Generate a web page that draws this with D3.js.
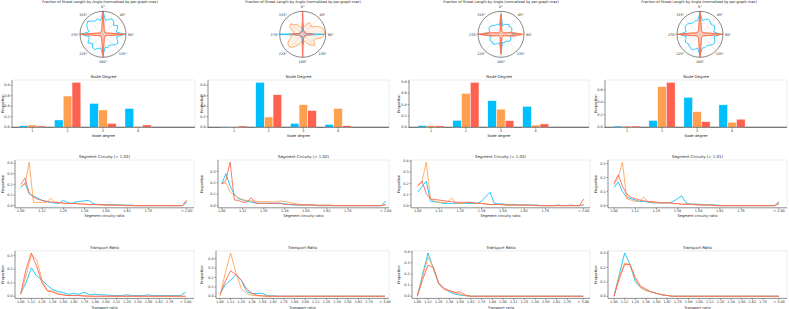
<!DOCTYPE html>
<html><head><meta charset="utf-8">
<script src="https://cdn.jsdelivr.net/npm/d3@7"></script>
<style>
body{margin:0;background:#fff}
svg{display:block}
text{font-family:"DejaVu Sans",sans-serif;fill:#262626}
</style>
</head><body>
<svg id="c" width="789" height="309"></svg>
<script>
// ---------- data ----------
const colors = ["#00BFFF", "#FFA050", "#FF6150"];

const polarAngles = [0,10,20,30,40,50,60,70,80,90,100,110,120,130,140,150,160,170,180,190,200,210,220,230,240,250,260,270,280,290,300,310,320,330,340,350];
const polarTickAngles = [0,45,90,135,180,225,270,315];
const polarTickLabels = ["0°","45°","90°","135°","180°","225°","270°","315°"];

const polarBlue1 = [1.0,0.62,0.68,0.78,0.72,0.6,0.74,0.66,0.58,0.95,0.6,0.66,0.76,0.7,0.6,0.55,0.62,0.56,0.92,0.6,0.66,0.76,0.72,0.6,0.76,0.66,0.6,0.96,0.62,0.72,0.82,0.86,0.76,0.66,0.72,0.6];
const polarOrange1 = [0.85,0.25,0.14,0.12,0.1,0.12,0.1,0.14,0.28,0.9,0.28,0.14,0.1,0.12,0.1,0.12,0.14,0.25,0.85,0.25,0.14,0.12,0.1,0.12,0.1,0.14,0.28,0.9,0.28,0.14,0.1,0.12,0.1,0.12,0.14,0.25];
const polarRed1 = [1.0,0.3,0.18,0.15,0.14,0.15,0.14,0.16,0.3,1.0,0.3,0.16,0.14,0.15,0.14,0.15,0.18,0.3,1.0,0.3,0.18,0.15,0.14,0.15,0.14,0.16,0.3,1.0,0.3,0.16,0.14,0.15,0.14,0.15,0.18,0.3];

const polarBlue2 = [0.3,0.12,0.1,0.1,0.12,0.1,0.1,0.12,0.2,1.0,0.2,0.12,0.1,0.1,0.12,0.1,0.1,0.12,0.4,0.12,0.1,0.1,0.12,0.1,0.1,0.12,0.2,1.0,0.2,0.12,0.1,0.1,0.12,0.1,0.1,0.12];
const polarOrange2 = [0.45,0.35,0.45,0.6,0.55,0.5,0.7,0.88,0.95,0.95,0.85,0.6,0.55,0.7,0.65,0.5,0.35,0.3,0.45,0.35,0.45,0.6,0.75,0.8,0.75,0.6,0.5,0.6,0.35,0.5,0.65,0.7,0.55,0.5,0.35,0.3];
const polarRed2 = [1.0,0.2,0.15,0.12,0.15,0.12,0.12,0.15,0.2,0.45,0.2,0.15,0.12,0.12,0.15,0.12,0.15,0.2,1.0,0.2,0.15,0.12,0.15,0.12,0.12,0.15,0.2,0.45,0.2,0.15,0.12,0.12,0.15,0.12,0.15,0.2];

const polarBlue3 = [0.9,0.38,0.45,0.5,0.55,0.5,0.55,0.5,0.42,0.62,0.42,0.45,0.5,0.46,0.4,0.36,0.4,0.36,0.85,0.36,0.42,0.5,0.55,0.5,0.55,0.5,0.42,0.9,0.5,0.55,0.6,0.56,0.5,0.46,0.46,0.4];
const polarOrange3 = [0.9,0.22,0.14,0.12,0.1,0.12,0.12,0.2,0.5,1.0,0.55,0.2,0.12,0.12,0.1,0.12,0.14,0.22,0.9,0.22,0.14,0.12,0.1,0.12,0.12,0.2,0.45,1.0,0.5,0.2,0.12,0.12,0.1,0.12,0.14,0.22];
const polarRed3 = [0.85,0.18,0.12,0.1,0.1,0.1,0.1,0.16,0.4,0.9,0.4,0.16,0.1,0.1,0.1,0.1,0.12,0.18,0.8,0.18,0.12,0.1,0.1,0.1,0.1,0.16,0.35,1.0,0.35,0.16,0.1,0.1,0.1,0.1,0.12,0.18];

const polarBlue4 = [0.95,0.6,0.7,0.75,0.7,0.65,0.72,0.68,0.6,0.9,0.62,0.68,0.74,0.7,0.62,0.58,0.62,0.6,0.92,0.6,0.7,0.75,0.7,0.65,0.72,0.68,0.6,0.9,0.62,0.68,0.74,0.7,0.62,0.58,0.62,0.6];
const polarOrange4 = [0.95,0.3,0.16,0.14,0.12,0.14,0.12,0.16,0.32,1.0,0.32,0.16,0.12,0.14,0.12,0.14,0.16,0.3,0.95,0.3,0.16,0.14,0.12,0.14,0.12,0.16,0.32,1.0,0.32,0.16,0.12,0.14,0.12,0.14,0.16,0.3];
const polarRed4 = [1.0,0.32,0.18,0.15,0.14,0.15,0.14,0.18,0.34,0.98,0.34,0.18,0.14,0.15,0.14,0.15,0.18,0.32,1.0,0.32,0.18,0.15,0.14,0.15,0.14,0.18,0.34,0.98,0.34,0.18,0.14,0.15,0.14,0.15,0.18,0.32];

const degreeCats = [1, 2, 3, 4];
const degreeBlue1 = [0.03, 0.14, 0.455, 0.36];
const degreeOrange1 = [0.045, 0.595, 0.33, 0.02];
const degreeRed1 = [0.025, 0.857, 0.076, 0.045];
const degreeBlue2 = [0.013, 0.857, 0.076, 0.057];
const degreeOrange2 = [0.013, 0.197, 0.43, 0.36];
const degreeRed2 = [0.025, 0.62, 0.32, 0.03];
const degreeBlue3 = [0.03, 0.124, 0.47, 0.37];
const degreeOrange3 = [0.03, 0.60, 0.32, 0.04];
const degreeRed3 = [0.025, 0.794, 0.118, 0.06];
const degreeBlue4 = [0.02, 0.11, 0.48, 0.36];
const degreeOrange4 = [0.02, 0.65, 0.25, 0.08];
const degreeRed4 = [0.02, 0.72, 0.09, 0.13];

const circuityTitles = ["Segment Circuity (> 1.02)", "Segment Circuity (> 1.02)", "Segment Circuity (> 1.02)", "Segment Circuity (> 1.01)"];
const circuityBins = [1.000,1.025,1.050,1.075,1.100,1.125,1.150,1.175,1.200,1.225,1.250,1.275,1.300,1.325,1.350,1.375,1.400,1.425,1.450,1.475,1.500,1.525,1.550,1.575,1.600,1.625,1.650,1.675,1.700,1.725,1.750,1.775,1.800,1.825,1.850,1.875,1.900,1.925,1.950,1.975];
const circuityTicks = [1.000,1.125,1.250,1.375,1.500,1.625,1.750,1.975];
const circuityTickLabels = ["1.00","1.12","1.25","1.38","1.50","1.62","1.75","> 2.00"];

const circBlue1 = [0.17,0.215,0.11,0.09,0.07,0.05,0.04,0.03,0.025,0.02,0.05,0.03,0.02,0.035,0.04,0.045,0.05,0.02,0.01,0.01,0.01,0.01,0.01,0.005,0.005,0.005,0.005,0,0,0,0,0,0,0,0,0,0,0,0,0.03];
const circOrange1 = [0.18,0.2,0.41,0.03,0.03,0.03,0.03,0.07,0.035,0.03,0.02,0.02,0.02,0.02,0.015,0.015,0.01,0.01,0.01,0.005,0.005,0.005,0.005,0.005,0,0,0,0,0,0,0,0,0,0,0,0,0,0,0,0.05];
const circRed1 = [0.2,0.26,0.12,0.08,0.06,0.05,0.04,0.035,0.03,0.03,0.025,0.02,0.02,0.02,0.015,0.015,0.01,0.01,0.01,0.01,0.005,0.005,0.005,0.005,0.005,0,0,0,0,0,0,0,0,0,0,0,0,0,0,0.05];

const circBlue2 = [0.19,0.28,0.17,0.1,0.06,0.05,0.04,0.03,0.025,0.02,0.02,0.02,0.02,0.02,0.02,0.015,0.01,0.005,0.005,0.005,0.005,0.005,0.005,0,0,0,0,0,0,0,0,0,0,0,0,0,0,0,0,0.04];
const circOrange2 = [0.19,0.2,0.12,0.09,0.07,0.05,0.045,0.04,0.04,0.035,0.035,0.035,0.03,0.035,0.04,0.035,0.03,0.02,0.015,0.01,0.01,0.01,0.005,0.005,0.005,0.005,0.005,0,0,0,0,0,0,0,0,0,0,0,0,0.01];
const circRed2 = [0.19,0.22,0.38,0.05,0.045,0.03,0.03,0.07,0.02,0.02,0.02,0.02,0.02,0.02,0.02,0.01,0.01,0.01,0.005,0.005,0.005,0.005,0.005,0,0,0,0,0,0,0,0,0,0,0,0,0,0,0,0,0.01];

const circBlue3 = [0.12,0.17,0.22,0.04,0.035,0.03,0.02,0.02,0.02,0.02,0.02,0.02,0.02,0.02,0.02,0.04,0.08,0.12,0.02,0.015,0.015,0.01,0.01,0.01,0.005,0.005,0.005,0.005,0.005,0,0,0,0,0.005,0,0,0.005,0,0,0.005];
const circOrange3 = [0.17,0.21,0.39,0.06,0.04,0.03,0.03,0.03,0.07,0.02,0.02,0.025,0.03,0.025,0.02,0.02,0.015,0.01,0.01,0.01,0.005,0.005,0.005,0.005,0.005,0.005,0.005,0,0,0,0,0,0,0,0,0,0,0,0,0.01];
const circRed3 = [0.18,0.22,0.11,0.06,0.055,0.05,0.045,0.04,0.035,0.03,0.03,0.03,0.03,0.025,0.02,0.02,0.015,0.01,0.01,0.01,0.01,0.005,0.005,0.005,0.005,0.005,0.005,0.005,0,0,0,0,0,0,0,0,0,0,0,0.06];

const circBlue4 = [0.13,0.17,0.1,0.06,0.05,0.04,0.03,0.03,0.025,0.02,0.02,0.02,0.02,0.02,0.03,0.05,0.07,0.02,0.01,0.01,0.01,0.005,0.005,0.005,0.005,0,0,0,0,0,0,0,0,0,0,0,0,0,0,0.02];
const circOrange4 = [0.15,0.2,0.31,0.05,0.04,0.03,0.03,0.06,0.03,0.02,0.02,0.02,0.02,0.02,0.015,0.015,0.01,0.01,0.01,0.005,0.005,0.005,0.005,0,0,0,0,0,0,0,0,0,0,0,0,0,0,0,0,0.01];
const circRed4 = [0.16,0.22,0.14,0.08,0.06,0.05,0.04,0.035,0.03,0.03,0.025,0.02,0.02,0.02,0.015,0.015,0.01,0.01,0.01,0.01,0.005,0.005,0.005,0.005,0,0,0,0,0,0,0,0,0,0,0,0,0,0,0,0.03];

const transportBins = [1.0,1.0625,1.125,1.1875,1.25,1.3125,1.375,1.4375,1.5,1.5625,1.625,1.6875,1.75,1.8125,1.875,1.9375,2.0,2.0625,2.125,2.1875,2.25,2.3125,2.375,2.4375,2.5,2.5625,2.625,2.6875,2.75,2.8125,2.875,2.9375];
const transportTicks = [1.0,1.125,1.25,1.375,1.5,1.625,1.75,1.875,2.0,2.125,2.25,2.375,2.5,2.625,2.75,2.9375];
const transportTickLabels = ["1.00","1.12","1.25","1.38","1.50","1.62","1.75","1.88","2.00","2.12","2.25","2.38","2.50","2.62","2.75","> 3.00"];

const transBlue1 = [0.02,0.1,0.21,0.15,0.12,0.08,0.05,0.035,0.027,0.015,0.02,0.015,0.03,0.01,0.015,0.01,0.01,0.005,0.005,0.005,0.01,0.005,0.005,0.005,0.01,0.005,0.005,0.005,0.005,0.005,0.005,0.03];
const transOrange1 = [0.01,0.15,0.31,0.27,0.12,0.04,0.04,0.02,0.01,0.005,0.005,0.005,0.005,0,0,0,0,0,0,0,0,0,0,0,0,0,0,0,0,0,0,0];
const transRed1 = [0.02,0.2,0.32,0.22,0.1,0.04,0.03,0.015,0.01,0.005,0.005,0.005,0,0,0,0,0,0,0,0,0,0,0,0,0,0,0,0,0,0,0,0];

const transBlue2 = [0.03,0.12,0.17,0.23,0.17,0.05,0.03,0.03,0.03,0.005,0.005,0,0,0,0,0,0,0,0,0,0,0,0,0,0,0,0,0,0,0,0,0];
const transOrange2 = [0.0,0.25,0.46,0.25,0.08,0.03,0.01,0.005,0,0,0,0,0,0,0,0,0,0,0,0,0,0,0,0,0,0,0,0,0,0,0,0];
const transRed2 = [0.02,0.16,0.27,0.23,0.17,0.08,0.03,0.01,0.005,0,0,0,0,0,0,0,0,0,0,0,0,0,0,0,0,0,0,0,0,0,0,0];

const transBlue3 = [0.0,0.2,0.39,0.25,0.11,0.07,0.04,0.02,0.01,0.005,0,0,0,0,0,0,0,0,0,0,0,0,0,0,0,0,0,0,0,0,0,0];
const transOrange3 = [0.0,0.18,0.35,0.26,0.11,0.06,0.05,0.03,0.02,0.005,0,0,0,0,0,0,0,0,0,0,0,0,0,0,0,0,0,0,0,0,0,0];
const transRed3 = [0.0,0.15,0.28,0.26,0.12,0.07,0.05,0.035,0.04,0.01,0,0,0,0,0,0,0,0,0,0,0,0,0,0,0,0,0,0,0,0,0,0];

const transBlue4 = [0.0,0.15,0.3,0.22,0.1,0.06,0.04,0.03,0.02,0.01,0.005,0,0,0,0,0,0,0,0,0,0,0,0,0,0,0,0,0,0,0,0,0];
const transOrange4 = [0.0,0.14,0.23,0.22,0.12,0.06,0.04,0.03,0.02,0.01,0.005,0,0,0,0,0,0,0,0,0,0,0,0,0,0,0,0,0,0,0,0,0];
const transRed4 = [0.0,0.12,0.22,0.22,0.13,0.07,0.05,0.03,0.02,0.01,0.005,0,0,0,0,0,0,0,0,0,0,0,0,0,0,0,0,0,0,0,0,0];

const polarData = [[polarBlue1,polarOrange1,polarRed1],[polarBlue2,polarOrange2,polarRed2],[polarBlue3,polarOrange3,polarRed3],[polarBlue4,polarOrange4,polarRed4]];
const degreeData = [[degreeBlue1,degreeOrange1,degreeRed1],[degreeBlue2,degreeOrange2,degreeRed2],[degreeBlue3,degreeOrange3,degreeRed3],[degreeBlue4,degreeOrange4,degreeRed4]];
const circData = [[circBlue1,circOrange1,circRed1],[circBlue2,circOrange2,circRed2],[circBlue3,circOrange3,circRed3],[circBlue4,circOrange4,circRed4]];
const transData = [[transBlue1,transOrange1,transRed1],[transBlue2,transOrange2,transRed2],[transBlue3,transOrange3,transRed3],[transBlue4,transOrange4,transRed4]];

// ---------- layout ----------
const layout = [
 {pcx:103,   ptx:100, ylab:2.7,   bar:[12,195],  cat1:32.3, step:35.3, seg:[15,194],  segA:20.7,  segB:186.7, tr:[15,194],  trA:20.7,  trB:185.7},
 {pcx:302.7, ptx:303, ylab:201.7, bar:[208,389], cat1:234,  step:34.7, seg:[218,389], segA:221.7, segB:385.7, tr:[216,389], trA:220,   trB:385},
 {pcx:501,   ptx:501, ylab:398.5, bar:[409,589], cat1:431,  step:34.9, seg:[411,590], segA:417.7, segB:583.7, tr:[412,590], trA:417.3, trB:583.3},
 {pcx:700,   ptx:699, ylab:596,   bar:[605,787], cat1:627,  step:35.0, seg:[608,787], segA:614,   segB:779,   tr:[608,787], trA:614,   trB:779}
];
const PCY = 34.3, PR = 23;
const barTop = 80, barBot = 127.3;
const segTop = 160, segBot = 207.8;
const trTop = 250.8, trBot = 298.4;
const FS_TICK = 3.4, FS_LAB = 3.6, FS_TITLE = 3.9;
const polarFill = [0.0, 0.15, 0.15];

const svg = d3.select("#c");

function spines(g, l, r, t, b) {
  g.append("line").attr("x1",l).attr("x2",r).attr("y1",t).attr("y2",t).attr("stroke","#d8d8d8").attr("stroke-width",0.5);
  g.append("line").attr("x1",r).attr("x2",r).attr("y1",t).attr("y2",b).attr("stroke","#d8d8d8").attr("stroke-width",0.5);
  g.append("line").attr("x1",l).attr("x2",l).attr("y1",t).attr("y2",b).attr("stroke","#444").attr("stroke-width",0.6);
  g.append("line").attr("x1",l).attr("x2",r).attr("y1",b).attr("y2",b).attr("stroke","#444").attr("stroke-width",0.6);
}
function yAxis(g, y, l, ticks) {
  ticks.forEach(t => {
    g.append("line").attr("x1",l-1.5).attr("x2",l).attr("y1",y(t)).attr("y2",y(t)).attr("stroke","#444").attr("stroke-width",0.5);
    g.append("text").attr("x",l-2.3).attr("y",y(t)).attr("dy","0.35em").attr("text-anchor","end").attr("font-size",FS_TICK).text(d3.format(".1f")(t));
  });
}
function xAxis(g, x, b, vals, labels) {
  vals.forEach((v,i) => {
    g.append("line").attr("x1",x(v)).attr("x2",x(v)).attr("y1",b).attr("y2",b+1.5).attr("stroke","#444").attr("stroke-width",0.5);
    g.append("text").attr("x",x(v)).attr("y",b+4.6).attr("text-anchor","middle").attr("font-size",FS_TICK).text(labels[i]);
  });
}
function yLabel(g, xpos, t, b) {
  g.append("text").attr("transform",`translate(${xpos},${(t+b)/2}) rotate(-90)`).attr("text-anchor","middle").attr("dy","0.35em").attr("font-size",FS_LAB).text("Proportion");
}
function autoY(series, t, b) {
  const mx = d3.max(series.flat());
  return d3.scaleLinear().domain([-0.05*mx, 1.05*mx]).range([b, t]);
}
function yTicksFor(y) {
  const [lo, hi] = y.domain();
  const out = [];
  for (let k = 0; k <= 10; k++) { const v = k/10; if (v <= hi + 1e-9 && v >= lo) out.push(v); }
  return out;
}
function yTicksBar(y) {
  const hi = y.domain()[1];
  const out = [];
  for (let k = 0; k <= 5; k++) { const v = k*0.2; if (v <= hi + 1e-9) out.push(v); }
  return out;
}

layout.forEach((L, c) => {
  const g = svg.append("g");

  // ---- polar ----
  g.append("text").attr("x",L.ptx).attr("y",2.6).attr("text-anchor","middle").attr("font-size",3.5).text("Fraction of Street Length by Angle (normalized by per-graph max)");
  const pg = g.append("g").attr("transform",`translate(${L.pcx},${PCY})`);
  const rScale = d3.scaleLinear().domain([0,1]).range([0,PR]);
  polarTickAngles.forEach((a,i) => {
    const rad = a*Math.PI/180;
    pg.append("line").attr("x1",0).attr("y1",0).attr("x2",PR*Math.sin(rad)).attr("y2",-PR*Math.cos(rad)).attr("stroke","#d0d0d0").attr("stroke-width",0.5);
    pg.append("text").attr("x",28*Math.sin(rad)).attr("y",-28*Math.cos(rad)).attr("dy","0.35em").attr("text-anchor","middle").attr("font-size",FS_TICK).text(polarTickLabels[i]);
  });
  pg.append("circle").attr("r",PR*0.5).attr("fill","none").attr("stroke","#e4e4e4").attr("stroke-width",0.4);
  const radial = d3.lineRadial().angle((d,i) => polarAngles[i]*Math.PI/180).radius(d => rScale(d)).curve(d3.curveLinearClosed);
  polarData[c].forEach((s,k) => {
    pg.append("path").attr("d",radial(s)).attr("fill",colors[k]).attr("fill-opacity",polarFill[k]).attr("stroke",colors[k]).attr("stroke-width",0.8).attr("stroke-linejoin","round");
  });
  pg.append("circle").attr("r",PR).attr("fill","none").attr("stroke","#555").attr("stroke-width",0.7);

  // ---- node degree bars ----
  const [bl, br] = L.bar;
  const xb = d3.scaleLinear().domain([1,4]).range([L.cat1, L.cat1 + 3*L.step]);
  const yb = d3.scaleLinear().domain([0, 1.05*d3.max(degreeData[c].flat())]).range([barBot, barTop]);
  spines(g, bl, br, barTop, barBot);
  const bw = 0.25;
  degreeData[c].forEach((s,k) => {
    const off = (k-1)*bw;
    g.selectAll(null).data(s).enter().append("rect")
      .attr("x",(d,i) => xb(degreeCats[i]+off-bw/2))
      .attr("width",xb(1+bw)-xb(1))
      .attr("y",d => yb(d))
      .attr("height",d => yb(0)-yb(d))
      .attr("fill",colors[k]).attr("stroke","#fff").attr("stroke-width",0.5);
  });
  g.append("line").attr("x1",bl).attr("x2",br).attr("y1",barBot).attr("y2",barBot).attr("stroke","#444").attr("stroke-width",0.6);
  yAxis(g, yb, bl, yTicksBar(yb));
  xAxis(g, xb, barBot, degreeCats, degreeCats.map(String));
  g.append("text").attr("x",(bl+br)/2).attr("y",barTop-1.6).attr("text-anchor","middle").attr("font-size",FS_TITLE).text("Node Degree");
  g.append("text").attr("x",(bl+br)/2).attr("y",barBot+10).attr("text-anchor","middle").attr("font-size",FS_LAB).text("Node degree");
  yLabel(g, L.ylab, barTop, barBot);

  // ---- circuity ----
  const [sl, sr] = L.seg;
  const xs = d3.scaleLinear().domain([circuityBins[0], circuityBins[circuityBins.length-1]]).range([L.segA, L.segB]);
  const ys = autoY(circData[c], segTop, segBot);
  spines(g, sl, sr, segTop, segBot);
  const lineS = d3.line().x((d,i) => xs(circuityBins[i])).y(d => ys(d));
  circData[c].forEach((s,k) => {
    g.append("path").attr("d",lineS(s)).attr("fill","none").attr("stroke",colors[k]).attr("stroke-width",0.9).attr("stroke-opacity",0.95).attr("stroke-linejoin","round");
  });
  yAxis(g, ys, sl, yTicksFor(ys));
  xAxis(g, xs, segBot, circuityTicks, circuityTickLabels);
  g.append("text").attr("x",(sl+sr)/2).attr("y",segTop-2).attr("text-anchor","middle").attr("font-size",FS_TITLE).text(circuityTitles[c]);
  g.append("text").attr("x",(sl+sr)/2).attr("y",segBot+9.6).attr("text-anchor","middle").attr("font-size",FS_LAB).text("Segment circuity ratio");
  yLabel(g, L.ylab, segTop, segBot);

  // ---- transport ----
  const [tl, trr] = L.tr;
  const xt = d3.scaleLinear().domain([transportBins[0], transportBins[transportBins.length-1]]).range([L.trA, L.trB]);
  const yt = autoY(transData[c], trTop, trBot);
  spines(g, tl, trr, trTop, trBot);
  const lineT = d3.line().x((d,i) => xt(transportBins[i])).y(d => yt(d));
  transData[c].forEach((s,k) => {
    g.append("path").attr("d",lineT(s)).attr("fill","none").attr("stroke",colors[k]).attr("stroke-width",0.9).attr("stroke-opacity",0.95).attr("stroke-linejoin","round");
  });
  yAxis(g, yt, tl, yTicksFor(yt));
  xAxis(g, xt, trBot, transportTicks, transportTickLabels);
  g.append("text").attr("x",(tl+trr)/2).attr("y",trTop-2).attr("text-anchor","middle").attr("font-size",FS_TITLE).text("Transport Ratio");
  g.append("text").attr("x",(tl+trr)/2).attr("y",trBot+10.2).attr("text-anchor","middle").attr("font-size",FS_LAB).text("Transport ratio");
  yLabel(g, L.ylab, trTop, trBot);
});
</script>
</body></html>
